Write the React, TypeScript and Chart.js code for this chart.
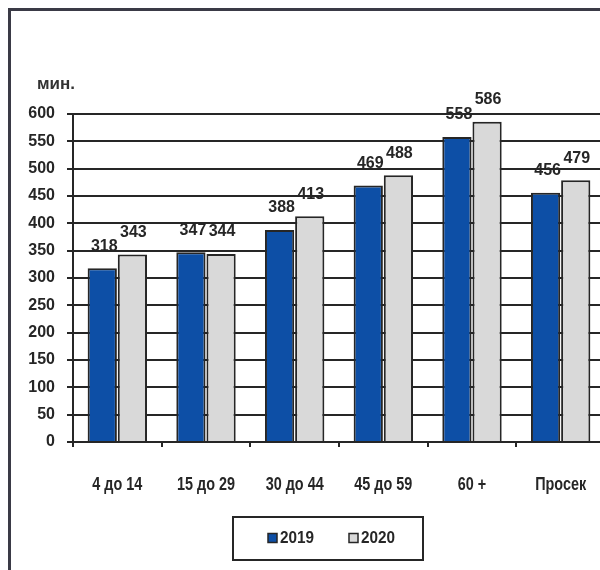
import React, { useEffect, useRef } from "react";
import { Chart, registerables } from "chart.js";

Chart.register(...registerables);

const categories = ["4 до 14", "15 до 29", "30 до 44", "45 до 59", "60 +", "Просек"];
const values2019 = [318, 347, 388, 469, 558, 456];
const values2020 = [343, 344, 413, 488, 586, 479];
const seriesNames = ["2019", "2020"];
const yMin = 0;
const yMax = 600;
const yStep = 50;
const unitLabel = "мин.";

const BLUE = "#0d4fa6";
const GRAY = "#d9d9d9";
const DARK = "#262626";
const FAMILY = "'Liberation Sans', Arial, sans-serif";
const NUM_FONT = "bold 16px " + FAMILY;

const decorPlugin = {
  id: "decor",
  afterDatasetsDraw(chart: any) {
    const ctx = chart.ctx;
    ctx.save();
    ctx.font = NUM_FONT;
    ctx.fillStyle = DARK;
    ctx.textAlign = "center";
    ctx.textBaseline = "bottom";
    chart.data.datasets.forEach((ds: any, di: number) => {
      const meta = chart.getDatasetMeta(di);
      meta.data.forEach((el: any, i: number) => {
        ctx.fillText(String(ds.data[i]), el.x + (di === 0 ? 2 : 1), el.y - 14);
      });
    });
    ctx.restore();
  },
  afterDraw(chart: any) {
    const ctx = chart.ctx;
    ctx.save();
    // outer frame (left and top edges visible)
    ctx.strokeStyle = "#3a3a46";
    ctx.lineWidth = 3;
    ctx.beginPath();
    ctx.moveTo(9.5, chart.height + 5);
    ctx.lineTo(9.5, 9.5);
    ctx.lineTo(chart.width + 5, 9.5);
    ctx.stroke();
    // condensed category labels
    const xs = chart.scales.x;
    ctx.font = "bold 18px " + FAMILY;
    ctx.fillStyle = DARK;
    ctx.textAlign = "center";
    ctx.textBaseline = "middle";
    chart.data.labels.forEach((lab: string, i: number) => {
      const px = xs.getPixelForTick(i);
      ctx.save();
      ctx.translate(px, xs.top + 43);
      ctx.scale(0.8, 1);
      ctx.fillText(lab, 0, 0);
      ctx.restore();
    });
    // unit label
    ctx.font = "bold 17px " + FAMILY;
    ctx.fillStyle = "#333";
    ctx.textAlign = "left";
    ctx.textBaseline = "middle";
    ctx.fillText(unitLabel, 37, 84);
    // legend
    const lx = 233, ly = 517, lw = 190, lh = 43;
    ctx.lineWidth = 2;
    ctx.strokeStyle = DARK;
    ctx.strokeRect(lx, ly, lw, lh);
    const cy = ly + lh / 2;
    const items = [
      { name: seriesNames[0], color: BLUE, x: 268 },
      { name: seriesNames[1], color: GRAY, x: 349 },
    ];
    ctx.font = "bold 17px " + FAMILY;
    ctx.textBaseline = "middle";
    items.forEach((it) => {
      ctx.fillStyle = it.color;
      ctx.fillRect(it.x, cy - 5, 9, 9);
      ctx.lineWidth = 1.5;
      ctx.strokeStyle = DARK;
      ctx.strokeRect(it.x, cy - 5, 9, 9);
      ctx.fillStyle = DARK;
      ctx.save();
      ctx.translate(it.x + 12, cy);
      ctx.scale(0.9, 1);
      ctx.fillText(it.name, 0, 0);
      ctx.restore();
    });
    ctx.restore();
  },
};

export default function App() {
  const ref = useRef<HTMLCanvasElement | null>(null);
  useEffect(() => {
    if (!ref.current) return;
    const chart = new Chart(ref.current, {
      type: "bar",
      data: {
        labels: categories,
        datasets: [
          {
            label: seriesNames[0],
            data: values2019,
            backgroundColor: BLUE,
            borderColor: DARK,
            borderWidth: 2,
            categoryPercentage: 0.68,
            barPercentage: 0.97,
          },
          {
            label: seriesNames[1],
            data: values2020,
            backgroundColor: GRAY,
            borderColor: DARK,
            borderWidth: 2,
            categoryPercentage: 0.68,
            barPercentage: 0.97,
          },
        ],
      },
      options: {
        responsive: false,
        animation: false,
        devicePixelRatio: 1,
        layout: { padding: { top: 114, right: 15, bottom: 0, left: 0 } },
        plugins: { legend: { display: false }, tooltip: { enabled: false } },
        scales: {
          x: {
            afterFit(scale: any) {
              scale.height = 128;
            },
            grid: {
              display: true,
              drawOnChartArea: false,
              tickLength: 5,
              color: DARK,
              lineWidth: 2,
            },
            border: { display: true, color: DARK, width: 2 },
            ticks: { display: false },
          },
          y: {
            min: yMin,
            max: yMax,
            afterFit(scale: any) {
              scale.width = 73;
            },
            grid: { color: DARK, lineWidth: 2, tickLength: 6 },
            border: { display: true, color: DARK, width: 2 },
            ticks: {
              stepSize: yStep,
              color: DARK,
              padding: 12,
              font: { family: FAMILY, size: 16, weight: "bold" },
            },
          },
        },
      },
      plugins: [decorPlugin],
    } as any);
    return () => chart.destroy();
  }, []);
  return (
    <div
      style={{
        position: "absolute",
        left: 0,
        top: 0,
        width: 600,
        height: 570,
        overflow: "hidden",
        background: "#fff",
      }}
    >
      <canvas ref={ref} width={620} height={570} style={{ width: 620, height: 570, display: "block" }} />
    </div>
  );
}
